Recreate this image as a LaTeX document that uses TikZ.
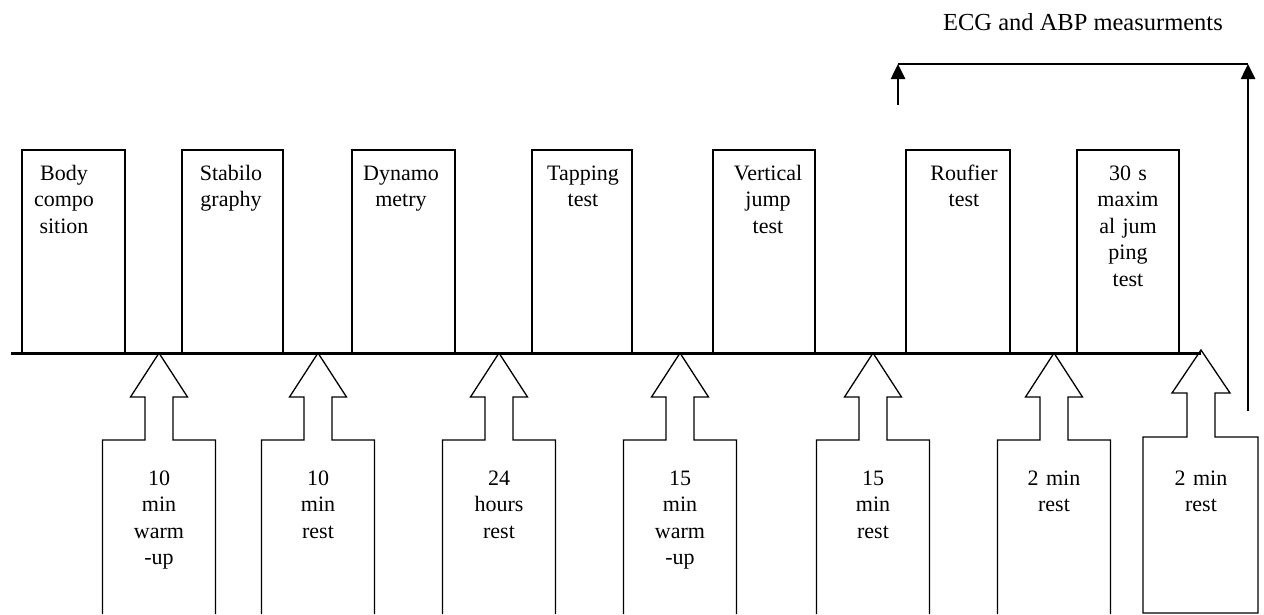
\documentclass[tikz,border=0pt]{standalone}
\usepackage{fontspec}
\setmainfont{Liberation Serif}
\usetikzlibrary{arrows.meta}
\begin{document}
\begin{tikzpicture}[x=1pt,y=-1pt,
  boxline/.style={line width=1.3pt, line join=miter},
  lbl/.style={anchor=base, inner sep=0pt, text width=110pt, align=center, font=\fontsize{22}{26.5}\selectfont},
  axis/.style={line width=3pt},
  measarrow/.style={line width=2.6pt, -{Triangle[width=14pt,length=15pt]}},
  bracket/.style={line width=1.5pt}]
\useasboundingbox (0,0) rectangle (1264,614);

% timeline
\coordinate (tl0) at (11,353);
\coordinate (tl1) at (1201,353);
\draw[axis] (tl0) -- (tl1);

% top boxes
\foreach \l/\r/\tx/\nm/\txt in {
  22/125/64/body/{Body\\compo\\sition},
  182/283/231/stab/{Stabilo\\graphy},
  352/455/401/dyn/{Dynamo\\metry},
  532/632/583/tap/{Tapping\\test},
  713/815/768/vjump/{Vertical\\jump\\test},
  906/1010/964/rouf/{Roufier\\test},
  1077/1179/1128/maxjump/{30 s\\maxim\\al jum\\ping\\test}}{
  \draw[boxline] (\l,353) -- (\l,150) -- (\r,150) -- (\r,353);
  \node[lbl] (\nm) at (\tx,180) {\txt};
}

% callouts below the timeline
\foreach \c/\nm/\txt in {
  159/c1/{10\\min\\warm\\-up},
  318/c2/{10\\min\\rest},
  499/c3/{24\\hours\\rest},
  680/c4/{15\\min\\warm\\-up},
  873/c5/{15\\min\\rest},
  1054/c6/{2 min\\rest}}{
  \draw[boxline] (\c-56.5,614) -- (\c-56.5,440) -- (\c-14,440) -- (\c-14,397)
    -- (\c-28.5,397) -- (\c,353) -- (\c+28.5,397) -- (\c+14,397) -- (\c+14,440)
    -- (\c+56.5,440) -- (\c+56.5,614);
  \node[lbl] (\nm) at (\c,485) {\txt};
}

% last callout
\draw[boxline] (1143,613) -- (1143,437) -- (1187,437) -- (1187,393) -- (1172,393)
  -- (1201,350) -- (1230,393) -- (1215,393) -- (1215,437) -- (1258,437)
  -- (1258,613) -- cycle;
\node[lbl] (c7) at (1201,485) {2 min\\rest};

% ECG / ABP measurement bracket
\coordinate (e1) at (898,105);
\coordinate (e2) at (898,64);
\coordinate (e3) at (1248,64);
\coordinate (e4) at (1248,411);
\draw[bracket] (e2) -- (e3);
\draw[measarrow] (e1) -- (e2);
\draw[measarrow] (e4) -- (e3);
\node[anchor=base east, inner sep=0pt, font=\fontsize{24.5}{28}\selectfont] (ecg) at (1223,30) {ECG and ABP measurments};
\end{tikzpicture}
\end{document}
